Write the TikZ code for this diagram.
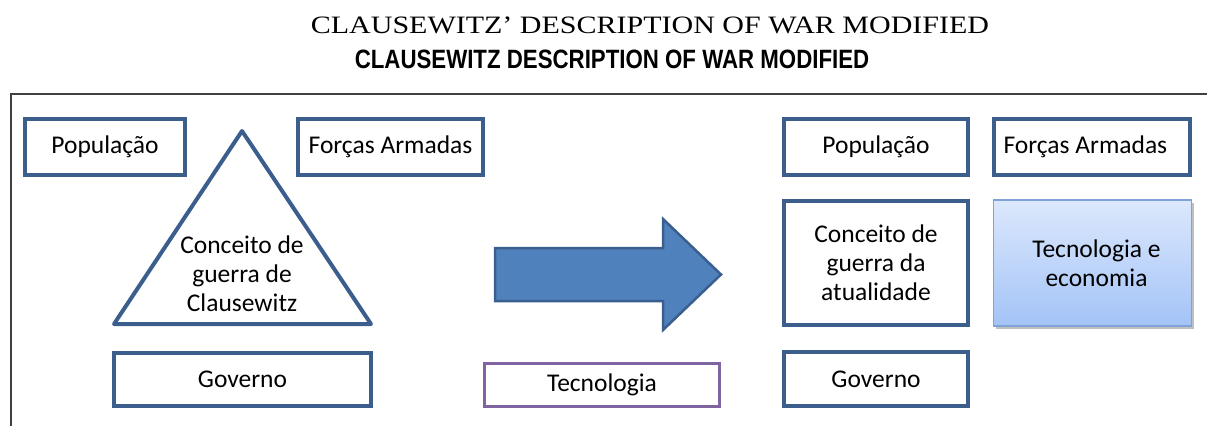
\documentclass[tikz,border=0pt]{standalone}
\usepackage{fontspec}
\setmainfont{Carlito}
\newfontfamily\titleserif[FakeStretch=1.2]{Liberation Serif}
\newfontfamily\titlesans[FakeStretch=0.84]{Liberation Sans}
\usetikzlibrary{shadows}
\definecolor{boxblue}{HTML}{3B5E8C}
\definecolor{arrowblue}{HTML}{4F81BD}
\definecolor{arrowedge}{HTML}{3A5F8E}
\definecolor{techpurple}{HTML}{8064A2}
\definecolor{frameline}{HTML}{404040}
\definecolor{gradtop}{HTML}{DCE8FC}
\definecolor{gradbot}{HTML}{A3C3F7}
\definecolor{gradedge}{HTML}{7FA3D9}

\begin{document}
\begin{tikzpicture}[x=1pt, y=-1pt,
    label text/.style={font=\fontsize{25.5}{29}\selectfont, align=center},
    box/.style={label text, draw=boxblue, line width=4pt, rectangle, inner sep=0pt},
    techbox/.style={label text, draw=techpurple, line width=3pt, rectangle, inner sep=0pt},
    gradbox/.style={label text, draw=gradedge, line width=1.5pt, rectangle, inner sep=0pt,
      top color=gradtop, bottom color=gradbot,
      drop shadow={shadow xshift=2pt, shadow yshift=-3pt, fill=black, opacity=0.25}}]
  \useasboundingbox (0,0) rectangle (1207,426);

  % titles
  \node[anchor=base, font=\titleserif\fontsize{25}{25}\selectfont] (title) at (650,33)
    {CLAUSEWITZ’ DESCRIPTION OF WAR MODIFIED};
  \node[anchor=base, font=\titlesans\bfseries\fontsize{26.5}{26.5}\selectfont] (subtitle) at (612,68)
    {CLAUSEWITZ DESCRIPTION OF WAR MODIFIED};

  % frame
  \draw[frameline, line width=1.5pt] (11,426) -- (11,94) -- (1207,94);

  % Clausewitz
  \node[box, minimum width=160pt, minimum height=56pt] (pop1) at (105,147) {População};
  \node[box, minimum width=185pt, minimum height=56pt] (forcas1) at (390.5,147) {Forças Armadas};
  \node[box, minimum width=257pt, minimum height=53pt] (gov1) at (242.5,379.5) {Governo};
  \coordinate (apex) at (242,131);
  \coordinate (baseL) at (114,324);
  \coordinate (baseR) at (371,324);
  \draw[draw=boxblue, line width=4pt, line join=round] (apex) -- (baseL) -- (baseR) -- cycle;
  \node[label text] (conc1) at (242,274) {Conceito de\\guerra de\\Clausewitz};

  % transition
  \coordinate (arrowtip) at (721,274.5);
  \draw[fill=arrowblue, draw=arrowedge, line width=2.5pt]
    (495,248) -- (663,248) -- (663,219) -- (arrowtip) -- (663,330) -- (663,301) -- (495,301) -- cycle;
  \node[techbox, minimum width=235pt, minimum height=43pt] (tec) at (602,385) {Tecnologia};

  % actual
  \node[box, minimum width=184pt, minimum height=56pt] (pop2) at (876,147) {População};
  \node[box, minimum width=196pt, minimum height=56pt] (forcas2) at (1092,147) {};
  \node[label text, anchor=west] at (1000,147) {Forças Armadas};
  \node[box, minimum width=184pt, minimum height=124pt] (conc2) at (876,263) {Conceito de\\guerra da\\atualidade};
  \node[gradbox, minimum width=198pt, minimum height=126pt] (tececo) at (1092.5,263)
    {\hspace*{8pt}Tecnologia e\\\hspace*{8pt}economia};
  \node[box, minimum width=184pt, minimum height=54pt] (gov2) at (876,379) {Governo};
\end{tikzpicture}
\end{document}
